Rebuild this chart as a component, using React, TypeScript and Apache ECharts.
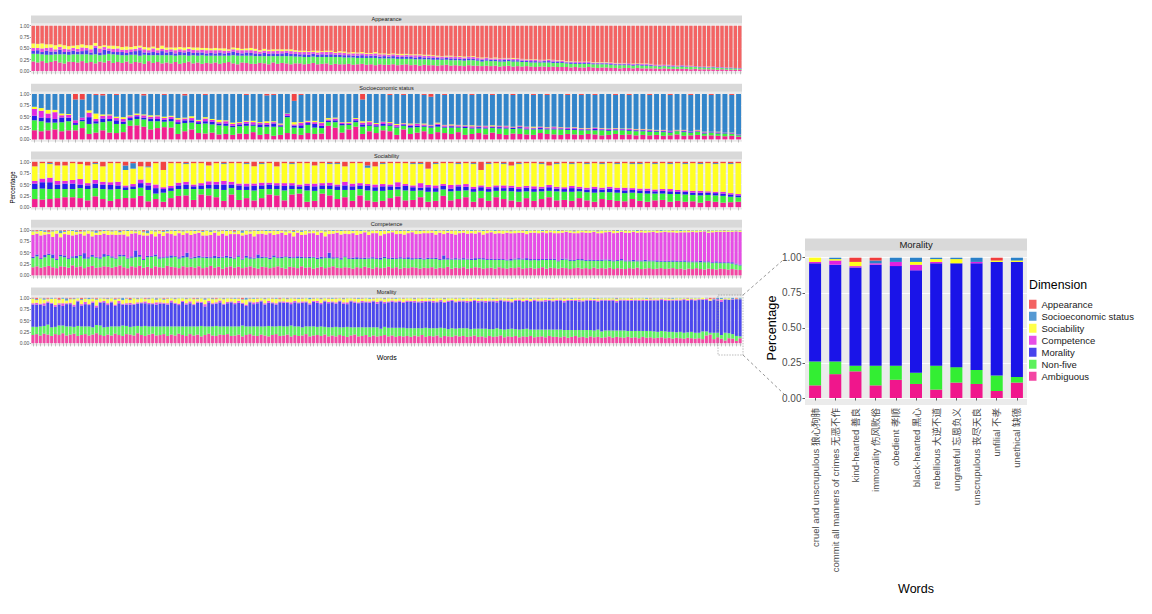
import React, { useEffect, useRef } from "react";
import * as echarts from "echarts";

const FONT = "'Liberation Sans', Arial, 'Noto Sans CJK SC', sans-serif";

const DIMENSIONS = ["Appearance", "Socioeconomic status", "Sociability", "Competence", "Morality", "Non-five", "Ambiguous"];
const STACK_ORDER = ["Ambiguous", "Non-five", "Morality", "Competence", "Sociability", "Socioeconomic status", "Appearance"];
const COLORS: Record<string, string> = {
  Appearance: "#F03C3C",
  "Socioeconomic status": "#2A80C8",
  Sociability: "#FFFF1A",
  Competence: "#E020E0",
  Morality: "#1A14E8",
  "Non-five": "#33EE33",
  Ambiguous: "#F0168C",
};

// ---------- Appearance panel (percent of each word) ----------
const appAmbiguous = [
  21,19,22,18,20,23,19,17,21,20, 19,22,18,20,17,21,19,23,18,20, 18,21,17,20,19,16,22,18,20,17,
  19,17,20,16,18,21,17,19,16,18, 17,19,16,18,20,17,15,19,18,16, 16,18,17,15,19,16,18,17,15,17,
  17,15,16,18,15,16,17,14,16,15, 15,16,14,15,16,14,15,13,15,14, 14,15,13,14,15,13,14,12,14,13,
  13,12,13,14,12,13,12,11,13,12, 12,11,12,11,12,10,11,12,10,11, 10,11,10,9,10,10,9,10,9,9,
  9,8,9,8,8,9,8,7,8,8, 7,7,6,7,7,6,7,6,6,6, 6,5,6,5,5,5,5,5,4,5, 4,4,4,4,3,4,3,3,3,3,
];
const appNonFive = [
  17,19,15,18,16,14,18,20,15,17, 18,15,19,16,20,14,17,15,19,16, 17,14,19,16,15,20,13,17,15,18,
  16,18,14,19,17,13,18,15,19,16, 17,15,18,16,14,18,19,15,16,18, 17,15,16,18,14,17,15,16,18,15,
  15,16,15,14,16,15,14,17,15,16, 15,14,16,14,13,15,14,16,13,14, 14,13,14,13,12,14,12,14,12,13,
  12,13,12,11,12,11,12,12,11,12, 11,10,11,11,10,11,10,10,11,10, 10,9,9,10,9,9,10,8,9,9,
  8,8,7,8,8,7,7,8,7,7, 7,6,7,6,6,6,6,6,6,5, 5,5,5,5,5,4,5,4,5,4, 4,4,3,4,4,3,3,3,3,2,
];
const appMorality = [
  6,8,5,9,7,6,10,5,7,8, 6,7,9,5,14,6,11,7,5,6, 7,5,6,8,12,5,6,7,5,9,
  6,8,5,7,6,9,5,7,6,5, 6,5,7,5,6,8,6,5,7,6, 6,5,7,5,6,5,6,7,5,6,
  5,6,5,6,5,6,5,6,5,5, 5,5,4,5,6,4,5,5,4,5, 4,5,4,4,5,4,4,5,4,4,
  4,4,3,4,4,4,3,4,4,3, 3,4,3,3,3,3,4,3,3,3, 3,3,3,3,2,3,3,3,3,2,
  2,3,2,2,2,2,2,2,2,2, 2,2,2,2,2,2,2,2,2,2, 1,2,1,2,1,1,2,1,1,1, 1,1,1,1,1,1,1,1,1,1,
];
const appCompetence = [
  7,5,8,6,9,5,6,7,5,6, 6,8,5,7,5,9,6,5,7,8, 5,7,6,5,6,7,5,8,6,5,
  6,5,7,6,5,6,7,5,6,7, 6,7,5,6,5,5,6,7,5,6, 6,5,5,6,5,7,5,5,6,5,
  5,5,6,4,5,5,6,5,4,5, 5,4,5,5,4,5,4,5,5,4, 4,4,5,4,4,4,5,4,4,4,
  4,3,4,3,4,3,4,3,3,4, 3,3,3,3,3,3,3,3,3,3, 3,2,3,3,3,2,3,3,2,3,
  2,2,2,2,2,2,2,2,2,2, 2,2,2,2,2,2,1,2,2,2, 2,1,2,1,2,1,1,2,1,1, 1,1,1,1,1,1,1,1,0,1,
];
const appSociability = [
  10,9,11,8,7,9,6,8,7,5, 8,7,6,9,6,5,4,6,7,5, 6,7,5,6,4,5,6,4,5,7,
  5,4,6,5,6,4,5,6,4,5, 4,5,4,5,3,4,5,3,4,5, 4,3,4,3,4,3,4,3,4,3,
  3,3,2,3,4,2,3,3,2,3, 3,2,3,2,3,2,2,3,2,2, 2,2,2,3,2,2,2,2,2,2,
  2,2,1,2,2,1,2,2,1,2, 1,2,1,1,2,1,1,1,2,1, 1,1,1,1,1,1,1,1,1,1,
  1,1,1,1,1,1,1,1,1,1, 1,1,1,1,0,1,1,1,1,1, 0,1,0,1,0,1,0,0,1,0, 0,0,1,0,0,0,0,0,0,0,
];

// ---------- Socioeconomic status panel ----------
const sesAmbiguous = [
  20,18,20,22,18,20,20,25,12,15, 20,15,14,16,30,31,28,22,25,27, 26,12,18,22,14,13,15,11,12,10,
  13,12,16,10,12,8,10,14,12,10, 14,12,13,30,26,15,22,28,12,18, 14,20,18,10,22,12,15,18,12,16,
  14,12,16,10,12,14,11,15,12,10, 13,12,11,10,14,12,11,10,12,11, 10,12,11,9,10,12,10,11,9,10,
  9,10,8,9,11,8,9,10,8,9,8,7,8,6,
];
const sesNonFive = [
  22,22,17,15,20,20,12,15,22,20, 18,25,20,18,12,14,16,18,15,12, 14,22,18,15,20,22,18,20,18,17,
  16,18,14,17,16,20,18,35,14,15, 18,14,12,8,12,16,10,10,16,12, 14,10,12,16,8,14,12,10,14,12,
  12,14,10,15,12,10,13,10,12,14, 10,12,11,12,8,10,11,12,9,10, 10,8,9,11,9,8,10,8,9,8,
  8,7,8,6,7,8,6,7,5,6,5,6,4,3,
];
const sesMorality = [
  10,8,10,8,10,8,4,3,15,5, 8,5,8,5,5,6,4,6,5,4, 5,4,6,5,4,5,6,4,5,3,
  4,5,3,6,4,7,3,3,4,6, 4,8,5,3,4,3,2,4,5,3, 3,4,3,2,3,4,3,2,3,4,
  2,3,2,3,2,3,2,2,3,2, 2,3,2,2,3,2,2,2,2,3, 2,2,3,2,2,2,2,2,2,2,
  2,2,2,2,1,2,2,1,2,1,2,1,1,1,
];
const sesCompetence = [
  15,15,10,15,5,6,6,5,10,5, 6,8,5,6,4,3,5,4,6,4, 5,6,4,5,3,6,4,3,5,4,
  3,4,5,3,4,3,2,4,3,5, 3,4,6,3,4,3,2,3,4,5, 3,4,3,4,2,3,4,3,2,3,
  3,2,3,2,3,2,3,2,2,3, 2,2,3,2,2,2,3,2,2,2, 2,2,2,2,2,2,1,2,2,2,
  2,1,2,2,1,2,1,2,1,1,1,1,1,1,
];
const sesSociability = [
  5,6,8,5,4,2,0,0,5,12, 3,2,3,4,2,3,2,3,2,3, 2,3,2,4,2,3,2,5,2,3,
  2,2,3,2,4,2,2,1,5,2, 2,3,2,3,2,1,2,2,3,2, 2,1,2,2,1,2,1,2,1,2,
  1,2,1,1,2,1,1,2,1,1, 1,1,1,2,1,1,1,1,1,1, 1,1,1,1,1,1,1,1,1,1,
  1,1,1,0,1,1,0,1,1,0,1,0,1,0,
];
const sesAppearance = [
  0,0,0,0,0,0,12,12,0,2, 3,0,2,0,0,0,3,0,0,2, 0,0,3,0,0,2,0,0,0,0,
  0,2,0,0,3,2,0,0,15,2, 0,0,0,0,0,0,0,0,12,0, 0,0,2,0,2,0,0,2,6,0,
  2,0,0,0,2,0,0,2,0,0, 2,0,0,2,0,2,0,0,2,0, 2,0,2,0,0,2,0,2,0,0,
  2,0,0,2,0,0,2,0,0,2,0,0,2,0,
];

// ---------- Sociability panel ----------
const socAmbiguous = [
  18,17,18,20,22,22,20,15,24,18, 14,18,20,20,25,13,18,12,20,25, 26,16,28,26,22,14,28,16,20,15,
  20,28,26,15,28,30,12,14,30,26, 18,22,14,26,15,12,14,20,24,15, 16,22,12,14,25,15,18,22,12,20,
  14,22,18,15,12,20,14,18,22,15, 16,14,20,15,12,18,16,14,13,18, 14,12,15,16,12,14,12,13,10,14,
  12,10,11,12,
];
const socNonFive = [
  22,24,22,20,18,18,22,25,18,22, 25,22,18,20,18,25,12,20,16,15, 14,24,12,15,18,24,14,22,18,22,
  20,12,14,22,12,10,25,22,10,14, 20,16,24,14,22,24,22,18,15,22, 20,15,22,20,14,20,18,15,22,16,
  20,14,18,20,22,15,20,17,14,20, 18,20,15,18,20,15,17,18,18,14, 17,18,15,14,17,15,16,14,16,13,
  14,15,12,10,
];
const socMorality = [
  12,14,15,10,12,12,8,8,10,10, 10,8,6,6,10,10,12,8,6,8, 10,6,8,8,10,12,8,10,8,10,
  8,10,8,10,8,6,10,10,8,8, 8,10,8,8,10,8,10,8,6,10, 8,6,10,8,8,6,10,8,6,8,
  6,8,6,8,6,8,6,6,8,6, 6,8,6,6,8,6,8,6,6,6, 6,6,5,6,6,5,6,5,6,5,
  5,5,5,4,
];
const socCompetence = [
  6,8,10,8,6,8,12,5,8,6, 6,8,4,5,8,6,8,4,5,6, 6,4,5,8,6,8,6,4,6,5,
  6,4,5,6,5,4,5,6,5,6, 4,8,6,5,4,6,5,4,10,4, 4,10,5,6,4,8,4,6,5,4,
  5,4,6,4,5,4,6,4,5,4, 4,5,4,4,5,4,4,5,6,4, 4,5,4,4,5,4,3,4,4,3,
  3,4,3,3,
];
const socSes = [
  0,0,2,0,0,0,0,0,2,0, 0,0,10,12,0,2,0,0,0,0, 2,0,0,0,0,2,0,0,2,0,
  2,0,0,0,2,0,0,0,0,2, 2,0,0,0,5,0,2,0,0,0, 2,2,0,2,0,0,2,0,2,0,
  2,0,2,0,2,0,0,2,0,2, 0,2,0,2,0,2,0,2,0,2, 2,0,2,0,2,0,2,0,2,0,
  2,0,2,0,
];
const socAppearance = [
  10,3,3,8,8,3,5,8,3,10, 3,3,8,3,10,10,3,18,3,3, 3,3,3,8,3,3,3,3,3,10,
  3,3,10,3,3,3,3,8,3,3, 3,10,3,3,8,10,3,3,3,3, 3,3,15,3,3,3,3,3,3,18,
  3,3,3,8,3,3,3,3,8,3, 3,3,3,3,3,3,3,3,3,3, 3,3,3,3,3,3,3,3,3,3,
  3,3,3,3,
];

// ---------- Competence panel ----------
const comAmbiguous = [
  18,20,17,19,21,18,16,20,19,17,22,18,20,16,19,21,17,18,20,19,
  17,19,22,18,16,20,18,21,17,19,16,20,18,17,21,19,18,16,20,18,
  19,17,20,16,18,21,17,19,15,18,20,17,19,16,18,20,17,15,19,18,
  16,18,20,17,15,19,18,16,20,17,18,15,17,19,16,18,20,17,16,18,
  17,15,18,16,19,17,15,18,16,17,19,16,18,15,17,16,18,17,15,17,
  16,18,15,17,16,19,15,17,16,18,15,16,18,17,15,16,17,15,18,16,
  15,17,16,18,15,16,17,15,16,18,15,17,16,15,17,16,14,16,17,15,
  16,14,17,15,16,15,17,14,16,15,14,16,15,17,14,15,16,14,15,16,
  14,15,16,14,15,13,15,14,16,14,13,15,14,13,15,14,13,14,13,12,
];
const comNonFive = [
  20,22,19,21,24,20,18,22,21,19,17,20,23,21,18,20,22,19,21,24,
  22,18,20,24,21,19,22,20,17,21,25,22,19,21,18,20,23,21,19,22,
  18,21,19,23,20,17,21,19,24,21,18,20,22,19,21,17,20,23,19,21,
  20,22,18,21,25,19,20,22,18,21,20,24,19,18,22,20,17,21,19,22,
  19,21,18,20,17,20,22,18,19,21,17,20,18,22,19,20,17,19,21,18,
  20,18,21,17,19,16,20,18,19,17,20,18,16,19,20,18,17,19,16,18,
  18,16,19,17,20,18,16,19,17,16,19,17,18,16,17,19,18,16,17,18,
  16,18,15,17,16,18,15,17,16,18,17,15,16,14,17,16,15,17,15,14,
  16,15,14,16,15,17,14,15,13,15,16,14,13,15,12,13,14,12,11,10,
];
const comMorality = [
  3,4,2,5,3,8,2,3,4,2,3,5,2,12,3,4,2,3,6,2,
  3,2,4,3,2,3,15,4,2,3,2,4,3,2,3,5,2,3,4,10,
  2,3,4,2,3,2,5,3,2,4,3,2,3,2,4,3,2,8,3,2,
  3,4,2,3,2,3,2,4,3,2,3,2,3,4,2,12,3,2,3,2,
  2,3,4,2,3,2,3,2,4,3,2,3,2,3,2,4,3,2,3,2,
  3,2,3,2,9,3,2,3,2,3,2,3,4,2,3,2,3,2,3,2,
  2,3,2,3,2,4,3,2,3,2,3,2,3,2,3,2,3,2,2,3,
  2,3,2,2,3,2,3,2,2,3,2,2,3,2,2,3,2,2,3,2,
  2,2,3,2,2,3,2,2,2,3,2,2,2,3,2,2,2,3,2,2,
];
const comSociability = [
  8,5,10,6,4,12,7,9,5,8,10,6,4,9,7,11,5,8,6,9,
  7,10,5,8,12,6,4,9,7,5,8,11,6,9,4,7,10,5,8,6,
  9,6,4,8,11,7,5,9,6,10,7,4,8,6,9,5,12,7,6,8,
  5,9,7,4,8,6,10,5,7,9,4,6,8,5,11,7,6,4,8,6,
  7,5,9,6,4,8,6,5,10,7,5,4,7,6,8,5,4,7,6,5,
  6,4,8,5,7,4,6,9,5,4,7,5,6,4,8,5,4,6,5,7,
  5,4,6,5,4,7,5,4,6,3,5,4,6,5,4,3,5,4,6,4,
  4,5,3,4,6,4,3,5,4,3,4,5,3,4,3,5,4,3,4,3,
  3,4,3,5,3,4,3,3,4,3,2,3,4,3,3,2,3,3,2,3,
];
const comSes = [
  2,1,2,3,1,2,1,6,2,1,2,3,1,2,1,2,5,1,2,1,
  2,1,3,1,2,1,2,1,2,6,1,2,1,2,3,1,2,1,2,1,
  1,2,1,2,1,3,1,2,1,2,1,2,1,5,1,2,1,2,1,2,
  2,1,2,1,2,1,2,1,3,1,2,1,2,1,2,1,2,1,2,1,
  1,2,1,2,1,2,1,1,2,1,2,1,1,2,1,2,1,1,2,1,
  1,1,2,1,1,2,1,1,2,1,1,2,1,1,2,1,1,2,1,1,
  1,2,1,1,1,2,1,1,1,2,1,1,1,2,1,1,1,2,1,1,
  1,1,1,2,1,1,1,1,2,1,1,1,1,2,1,1,1,1,1,2,
  1,1,1,1,2,1,1,1,1,1,1,2,1,1,1,1,1,1,1,1,
];
const comAppearance = [
  1,2,0,1,4,1,0,1,2,1,0,1,3,1,0,1,1,2,0,1,
  1,0,2,1,0,1,1,0,3,1,0,1,1,2,0,1,0,1,1,0,
  1,0,1,2,0,1,0,1,1,0,1,3,0,1,0,1,1,0,1,0,
  0,1,0,1,1,0,2,0,1,0,1,0,1,0,1,1,0,1,0,1,
  1,0,1,0,0,1,0,1,0,1,0,0,1,0,1,0,0,1,0,1,
  0,1,0,0,1,0,1,0,0,1,0,0,1,0,0,1,0,0,1,0,
  0,1,0,0,1,0,0,1,0,0,1,0,0,0,1,0,0,1,0,0,
  1,0,0,1,0,0,0,1,0,0,1,0,0,0,1,0,0,0,1,0,
  0,0,1,0,0,0,1,0,0,0,0,1,0,0,0,1,0,0,0,0,
];

// ---------- Morality panel (words before the zoomed ones) ----------
const morAmbiguous = [
  18,20,17,21,19,16,20,18,22,17,19,21,16,18,20,17,19,22,18,16,
  19,17,21,18,16,20,19,17,22,18,16,19,21,17,18,20,16,19,17,21,
  18,16,20,17,19,15,18,21,17,16,19,18,20,16,17,19,15,18,20,17,
  16,19,17,15,18,20,16,17,19,15,18,16,17,20,15,17,18,16,19,15,
  17,15,18,16,14,17,19,15,16,18,14,17,15,16,18,15,17,14,16,15,
  16,14,17,15,18,14,16,15,17,13,16,15,14,17,15,16,14,15,17,14,
  15,13,16,14,15,17,13,15,14,16,13,15,14,16,13,14,15,13,16,14,
  14,13,15,12,14,16,13,14,12,15,13,14,12,13,15,12,14,13,12,14,
  12,13,11,14,12,13,11,12,13,11,12,10,12,11,10,12,11,10,11,
];
const morNonFive = [
  18,16,20,17,22,19,16,21,17,20,18,15,22,19,17,20,16,18,21,19,
  17,20,16,19,23,18,17,20,16,19,22,18,16,20,19,17,21,18,20,16,
  19,21,17,20,18,23,19,16,20,22,18,19,17,21,20,18,24,19,17,20,
  21,18,20,23,19,17,22,20,18,24,19,21,18,17,22,20,18,21,17,20,
  18,21,17,19,22,18,16,20,19,17,21,18,20,16,18,19,17,20,18,19,
  17,19,16,18,15,20,17,18,16,21,17,16,19,15,18,17,19,16,15,18,
  17,19,15,17,18,14,17,16,18,15,17,16,18,14,17,16,15,17,14,16,
  16,17,14,17,15,13,16,15,17,14,15,16,14,15,13,16,14,15,16,13,
  15,14,16,13,15,14,15,13,14,15,13,15,12,14,13,12,14,13,12,
];
const morCompetence = [
  3,4,2,5,3,2,4,3,6,2,3,4,2,3,5,2,3,4,2,3,
  4,2,3,5,2,3,4,2,3,2,4,3,2,5,3,2,3,4,2,3,
  2,3,4,2,3,2,5,3,2,3,4,2,3,2,3,4,2,3,2,4,
  3,2,3,4,2,3,2,3,2,4,3,2,3,2,3,2,4,3,2,3,
  2,3,2,3,4,2,3,2,3,2,3,2,4,2,3,2,3,2,3,2,
  3,2,3,2,3,2,2,3,2,3,2,3,2,2,3,2,3,2,2,3,
  2,3,2,2,3,2,2,3,2,2,3,2,2,2,3,2,2,3,2,2,
  2,2,3,2,2,2,3,2,2,2,2,3,2,2,2,2,3,2,2,2,
  2,2,2,3,2,2,2,2,2,3,2,2,2,2,2,2,2,2,2,
];
const morSociability = [
  10,6,12,8,5,9,14,7,10,6,8,12,5,9,7,11,6,13,8,5,
  9,7,11,5,8,10,6,12,7,9,5,8,11,6,9,7,10,5,8,12,
  6,9,7,11,5,8,10,6,9,7,5,10,8,6,9,5,7,11,6,8,
  7,5,9,6,8,10,5,7,6,9,5,8,6,7,9,5,6,8,5,7,
  6,8,5,7,9,5,6,8,5,7,6,4,8,5,6,7,4,6,5,7,
  5,6,4,7,5,6,4,5,7,4,6,5,4,6,5,4,6,5,4,5,
  4,6,5,4,5,3,5,4,6,4,3,5,4,5,3,4,5,4,3,4,
  4,3,5,4,3,4,3,5,3,4,3,4,3,3,4,3,4,3,3,4,
  3,3,4,3,3,2,3,3,2,3,3,2,3,3,2,3,2,3,2,
];
const morSes = [
  1,2,1,3,1,2,1,1,2,5,1,2,1,2,1,3,1,2,1,1,
  2,1,2,1,5,1,2,1,2,1,1,2,1,3,1,2,1,1,2,1,
  1,2,1,1,2,1,3,1,2,1,1,2,1,1,2,1,1,4,1,2,
  1,1,2,1,1,2,1,1,2,1,1,2,1,1,3,1,1,2,1,1,
  2,1,1,2,1,1,1,2,1,1,2,1,1,1,2,1,1,2,1,1,
  1,1,2,1,1,1,2,1,1,1,2,1,1,1,1,2,1,1,1,2,
  1,1,1,2,1,1,1,1,2,1,1,1,1,2,1,1,1,1,2,1,
  1,1,1,1,2,1,1,1,1,1,2,1,1,1,1,1,2,1,1,1,
  1,1,1,1,2,1,1,1,1,1,1,2,1,1,1,1,1,1,1,
];
const morAppearance = [
  1,3,0,1,2,0,1,4,0,1,2,1,0,3,1,0,1,2,0,1,
  1,0,2,1,0,1,3,0,1,0,2,1,0,1,0,2,1,0,1,0,
  0,1,0,2,1,0,1,0,1,2,0,1,0,1,0,1,3,0,1,0,
  1,0,1,0,1,0,2,0,1,0,1,0,1,0,0,1,0,1,0,1,
  0,1,0,1,0,0,1,0,1,0,0,1,0,0,1,0,1,0,0,1,
  0,0,1,0,1,0,0,1,0,0,1,0,0,1,0,0,0,1,0,0,
  1,0,0,0,1,0,0,1,0,0,0,1,0,0,0,1,0,0,0,1,
  0,0,1,0,0,0,1,0,0,0,0,1,0,0,0,0,1,0,0,0,
  1,0,0,0,0,1,0,0,0,0,1,0,0,0,0,1,0,0,0,
];

// ---------- Zoomed morality words (last words of the Morality panel) ----------
const zoomWords = [
  "cruel and unscrupulous 狼心狗肺",
  "commit all manners of crimes 无恶不作",
  "kind-hearted 善良",
  "immorality 伤风败俗",
  "obedient 孝顺",
  "black-hearted 黑心",
  "rebellious 大逆不道",
  "ungrateful 忘恩负义",
  "unscrupulous 丧尽天良",
  "unfilial 不孝",
  "unethical 缺德",
];
const zoomAmbiguous = [9, 17, 19, 9, 13, 10, 6, 11, 10, 5, 11];
const zoomNonFive = [17, 9, 4, 14, 10, 8, 17, 11, 10, 11, 4];
const zoomCompetence = [1, 3, 1, 1, 3, 4, 1, 0, 1, 0, 0];
const zoomSociability = [3, 1, 3, 0, 0, 2, 2, 3, 0, 1, 1];
const zoomSes = [0, 1, 0, 2, 3, 3, 1, 1, 3, 0, 2];
const zoomAppearance = [0, 0, 3, 2, 0, 0, 0, 0, 0, 2, 0];

type Parts = Record<string, number[]>;

function buildStack(parts: Parts, main: string, n: number) {
  const out: Record<string, number[]> = {};
  for (const d of STACK_ORDER) out[d] = [];
  for (let i = 0; i < n; i++) {
    let s = 0;
    for (const d of STACK_ORDER) {
      if (d === main) continue;
      const arr = parts[d];
      const v = arr && arr[i] != null ? arr[i] : 0;
      out[d].push(v / 100);
      s += v;
    }
    out[main].push(Math.max(0, 100 - s) / 100);
  }
  return out;
}

// lighten a hex colour toward white (dense panels look washed out)
function wash(hex: string, t: number) {
  const n = parseInt(hex.slice(1), 16);
  const r = (n >> 16) & 255, g = (n >> 8) & 255, b = n & 255;
  const m = (c: number) => Math.round(c + (255 - c) * t);
  return `rgb(${m(r)},${m(g)},${m(b)})`;
}

const LEFT_PANELS = [
  { title: "Appearance", main: "Appearance", gap: "22%", wash: 0.2,
    parts: { Ambiguous: appAmbiguous, "Non-five": appNonFive, Morality: appMorality, Competence: appCompetence, Sociability: appSociability } },
  { title: "Socioeconomic status", main: "Socioeconomic status", gap: "28%", wash: 0.04,
    parts: { Ambiguous: sesAmbiguous, "Non-five": sesNonFive, Morality: sesMorality, Competence: sesCompetence, Sociability: sesSociability, Appearance: sesAppearance } },
  { title: "Sociability", main: "Sociability", gap: "28%", wash: 0.04,
    parts: { Ambiguous: socAmbiguous, "Non-five": socNonFive, Morality: socMorality, Competence: socCompetence, "Socioeconomic status": socSes, Appearance: socAppearance } },
  { title: "Competence", main: "Competence", gap: "22%", wash: 0.2,
    parts: { Ambiguous: comAmbiguous, "Non-five": comNonFive, Morality: comMorality, Sociability: comSociability, "Socioeconomic status": comSes, Appearance: comAppearance } },
  { title: "Morality", main: "Morality", gap: "22%", wash: 0.22,
    parts: {
      Ambiguous: [...morAmbiguous, ...zoomAmbiguous],
      "Non-five": [...morNonFive, ...zoomNonFive],
      Competence: [...morCompetence, ...zoomCompetence],
      Sociability: [...morSociability, ...zoomSociability],
      "Socioeconomic status": [...morSes, ...zoomSes],
      Appearance: [...morAppearance, ...zoomAppearance],
    } },
];

const ZOOM_PANEL = {
  title: "Morality", main: "Morality",
  parts: { Ambiguous: zoomAmbiguous, "Non-five": zoomNonFive, Competence: zoomCompetence, Sociability: zoomSociability, "Socioeconomic status": zoomSes, Appearance: zoomAppearance },
};

const LEFT_X = 31;
const LEFT_W = 711;
const LEFT_TOPS = [25.7, 94, 161.8, 230, 297.8];
const LEFT_H = 45.4;
const LEFT_PAD = 2.3;
const LEFT_STRIP = 8;

const R_X = 805;
const R_W = 222;
const R_TOP = 257.7;
const R_H = 140.3;
const R_PAD = 7;
const R_STRIP = 12.2;

function buildOption() {
  const grid: any[] = [];
  const xAxis: any[] = [];
  const yAxis: any[] = [];
  const series: any[] = [];
  const graphic: any[] = [];

  LEFT_PANELS.forEach((p, k) => {
    const n = p.parts.Ambiguous.length;
    const cats = Array.from({ length: n }, (_, i) => String(i + 1));
    const stack = buildStack(p.parts as Parts, p.main, n);
    const top = LEFT_TOPS[k];
    grid.push({ left: LEFT_X, top, width: LEFT_W, height: LEFT_H });
    xAxis.push({
      type: "category", gridIndex: k, data: cats, offset: LEFT_PAD + 0.8,
      axisLine: { show: false },
      axisTick: { show: true, alignWithLabel: true, interval: 0, length: 3.2, lineStyle: { color: "#9a9a9a", width: 0.6 } },
      axisLabel: { show: false },
      splitLine: { show: false },
    });
    yAxis.push({
      type: "value", gridIndex: k, min: 0, max: 1, interval: 0.25,
      axisLine: { show: false },
      axisTick: { show: true, length: 1.2, lineStyle: { color: "#444", width: 0.5 } },
      axisLabel: { fontSize: 5, color: "#4D4D4D", margin: 1.6, fontFamily: FONT, formatter: (v: number) => v.toFixed(2) },
      splitLine: { show: true, lineStyle: { color: "#ffffff", width: 0.5 } },
    });
    STACK_ORDER.forEach((d) => {
      series.push({
        type: "bar", name: d, xAxisIndex: k, yAxisIndex: k, stack: "left" + k,
        data: stack[d], barCategoryGap: p.gap, silent: true,
        itemStyle: { color: wash(COLORS[d], p.wash) },
      });
    });
    graphic.push({ type: "rect", z: -10, shape: { x: LEFT_X, y: top - LEFT_PAD, width: LEFT_W, height: LEFT_H + 2 * LEFT_PAD }, style: { fill: "#EBEBEB" } });
    graphic.push({ type: "rect", z: -10, shape: { x: LEFT_X, y: top - LEFT_PAD - LEFT_STRIP, width: LEFT_W, height: LEFT_STRIP }, style: { fill: "#D9D9D9" } });
    graphic.push({
      type: "text", z: 20, x: LEFT_X + LEFT_W / 2, y: top - LEFT_PAD - LEFT_STRIP / 2,
      style: { text: p.title, fontSize: 5.6, fill: "#1A1A1A", fontFamily: FONT, textAlign: "center", textVerticalAlign: "middle", align: "center", verticalAlign: "middle" },
    });
  });

  // zoomed Morality panel
  const rk = LEFT_PANELS.length;
  const rStack = buildStack(ZOOM_PANEL.parts as Parts, ZOOM_PANEL.main, zoomWords.length);
  grid.push({ left: R_X, top: R_TOP, width: R_W, height: R_H });
  xAxis.push({
    type: "category", gridIndex: rk, data: zoomWords, offset: R_PAD,
    axisLine: { show: false },
    axisTick: { show: true, alignWithLabel: true, length: 2.5, lineStyle: { color: "#333", width: 0.8 } },
    axisLabel: { interval: 0, rotate: 90, fontSize: 9.5, color: "#4D4D4D", margin: 3, fontFamily: FONT },
    splitLine: { show: false },
  });
  yAxis.push({
    type: "value", gridIndex: rk, min: 0, max: 1, interval: 0.25,
    axisLine: { show: false },
    axisTick: { show: true, length: 2.5, lineStyle: { color: "#333", width: 0.8 } },
    axisLabel: { fontSize: 10, color: "#4D4D4D", margin: 3.5, fontFamily: FONT, formatter: (v: number) => v.toFixed(2) },
    splitLine: { show: true, lineStyle: { color: "#ffffff", width: 0.9 } },
  });
  STACK_ORDER.forEach((d) => {
    series.push({
      type: "bar", name: d, xAxisIndex: rk, yAxisIndex: rk, stack: "zoom",
      data: rStack[d], barWidth: 12, silent: true,
      itemStyle: { color: COLORS[d] },
    });
  });
  graphic.push({ type: "rect", z: -10, shape: { x: R_X, y: R_TOP - R_PAD, width: R_W, height: R_H + 2 * R_PAD }, style: { fill: "#EBEBEB" } });
  graphic.push({ type: "rect", z: -10, shape: { x: R_X, y: R_TOP - R_PAD - R_STRIP, width: R_W, height: R_STRIP }, style: { fill: "#D9D9D9" } });
  graphic.push({
    type: "text", z: 20, x: R_X + R_W / 2, y: R_TOP - R_PAD - R_STRIP / 2,
    style: { text: ZOOM_PANEL.title, fontSize: 9.5, fill: "#1A1A1A", fontFamily: FONT, textAlign: "center", textVerticalAlign: "middle", align: "center", verticalAlign: "middle" },
  });

  const txt = (text: string, x: number, y: number, size: number, rot = 0, align = "center") => ({
    type: "text", z: 20, x, y, rotation: rot,
    style: { text, fontSize: size, fill: "#000000", fontFamily: FONT, textAlign: align, textVerticalAlign: "middle", align, verticalAlign: "middle" },
  });
  graphic.push(txt("Percentage", 12.7, 187.5, 6.3, Math.PI / 2));
  graphic.push(txt("Words", 386.7, 357.7, 7));
  graphic.push(txt("Percentage", 772, 328, 12.7, Math.PI / 2));
  graphic.push(txt("Words", 916, 589, 12.5));
  graphic.push(txt("Dimension", 1029, 285, 12.3, 0, "left"));

  // zoom indicator
  const dash = { stroke: "#8f8f8f", lineWidth: 0.9, lineDash: [3, 2.5] };
  graphic.push({ type: "rect", z: 30, shape: { x: 718, y: 295, width: 25, height: 60 }, style: { fill: "none", stroke: "#8f8f8f", lineWidth: 0.6, lineDash: [1.5, 1.2] } });
  graphic.push({ type: "line", z: 30, shape: { x1: 743, y1: 295, x2: 782, y2: 261 }, style: dash });
  graphic.push({ type: "line", z: 30, shape: { x1: 743, y1: 355, x2: 784, y2: 394 }, style: dash });

  return {
    animation: false,
    backgroundColor: "#ffffff",
    textStyle: { fontFamily: FONT },
    grid, xAxis, yAxis, series, graphic,
    legend: {
      data: DIMENSIONS, orient: "vertical", left: 1029, top: 299.5, padding: 0,
      itemWidth: 7.5, itemHeight: 9, itemGap: 2.5, icon: "rect", selectedMode: false,
      textStyle: { fontSize: 9.5, color: "#1A1A1A", lineHeight: 9, fontFamily: FONT },
    },
    tooltip: { show: false },
  };
}

export default function App() {
  const ref = useRef<HTMLDivElement>(null);
  useEffect(() => {
    document.body.style.margin = "0";
    if (!ref.current) return;
    const chart = echarts.init(ref.current, undefined, { renderer: "svg" });
    chart.setOption(buildOption() as any);
    return () => chart.dispose();
  }, []);
  return (
    <div style={{ position: "fixed", left: 0, top: 0, width: 1152, height: 614, background: "#ffffff" }}>
      <div ref={ref} style={{ width: 1152, height: 614 }} />
    </div>
  );
}
